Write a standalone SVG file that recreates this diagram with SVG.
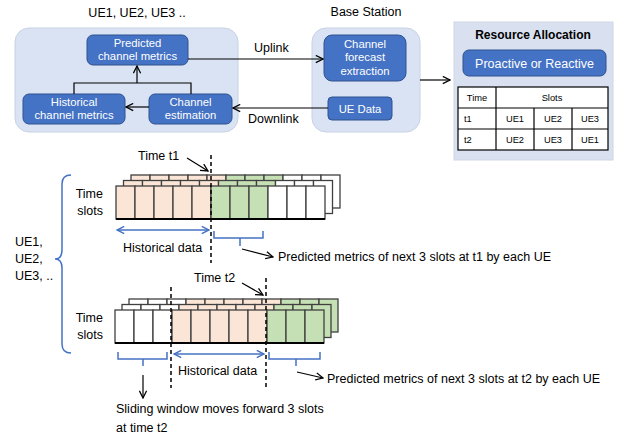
<svg xmlns="http://www.w3.org/2000/svg" xmlns:xlink="http://www.w3.org/1999/xlink" width="628" height="436" viewBox="0 0 628 436">
<style>
text{font-family:"Liberation Sans",Arial,sans-serif;fill:#000}
.t12{font-size:12.5px}
.w{fill:#fff;font-size:11.3px}
.c{text-anchor:middle}
.cont{fill:#dae3f3;stroke:#c8d2e2;stroke-width:1}
.box{fill:#4472c4;stroke:#2f528f;stroke-width:1}
.ln{fill:none;stroke:#000;stroke-width:1.2}
.blue{fill:none;stroke:#4472c4;stroke-width:1.5}
.dash{fill:none;stroke:#000;stroke-width:1.5;stroke-dasharray:4 3}
.tb{fill:#fff;stroke:#000;stroke-width:1.2}
.tt{font-size:9.3px}
.pk{fill:#fbe5d6;stroke:#404040;stroke-width:1.3}
.gr{fill:#c5e0b4;stroke:#404040;stroke-width:1.3}
.wh{fill:#fff;stroke:#404040;stroke-width:1.3}
</style>
<defs>
<marker id="ah" viewBox="0 0 10 10" refX="9" refY="5" markerWidth="9" markerHeight="9" markerUnits="userSpaceOnUse" orient="auto-start-reverse">
<path d="M1,1 L9,5 L1,9" fill="none" stroke="#000" stroke-width="1.4"/>
</marker>
<marker id="ahb" viewBox="0 0 10 10" refX="9" refY="5" markerWidth="9" markerHeight="9" markerUnits="userSpaceOnUse" orient="auto-start-reverse">
<path d="M1,1 L9,5 L1,9" fill="none" stroke="#4472c4" stroke-width="1.6"/>
</marker>
<g id="layerA">
<rect class="pk" x="0" y="0" width="19" height="33"/><rect class="pk" x="19" y="0" width="19" height="33"/><rect class="pk" x="38" y="0" width="19" height="33"/><rect class="pk" x="57" y="0" width="19" height="33"/><rect class="pk" x="76" y="0" width="19" height="33"/>
<rect class="gr" x="95" y="0" width="19" height="33"/><rect class="gr" x="114" y="0" width="19" height="33"/><rect class="gr" x="133" y="0" width="19" height="33"/>
<rect class="wh" x="152" y="0" width="19" height="33"/><rect class="wh" x="171" y="0" width="19" height="33"/><rect class="wh" x="190" y="0" width="19" height="33"/>
</g>
<g id="layerB">
<rect class="wh" x="0" y="0" width="19" height="33"/><rect class="wh" x="19" y="0" width="19" height="33"/><rect class="wh" x="38" y="0" width="19" height="33"/>
<rect class="pk" x="57" y="0" width="19" height="33"/><rect class="pk" x="76" y="0" width="19" height="33"/><rect class="pk" x="95" y="0" width="19" height="33"/><rect class="pk" x="114" y="0" width="19" height="33"/><rect class="pk" x="133" y="0" width="19" height="33"/>
<rect class="gr" x="152" y="0" width="19" height="33"/><rect class="gr" x="171" y="0" width="19" height="33"/><rect class="gr" x="190" y="0" width="19" height="33"/>
</g>
</defs>
<rect width="628" height="436" fill="#fff"/>

<g id="ue-container">
<rect class="cont" x="15" y="28" width="223" height="104" rx="14"/>
<text class="t12 c" x="137" y="17">UE1, UE2, UE3 ..</text>
</g>
<g id="bs-container">
<rect class="cont" x="312" y="28" width="108" height="104" rx="14"/>
<text class="t12 c" x="366" y="16">Base Station</text>
</g>

<g id="predicted">
<rect class="box" x="87" y="35" width="101" height="30" rx="6"/>
<text class="w c" x="137.5" y="47">Predicted</text>
<text class="w c" x="137.5" y="60">channel metrics</text>
</g>
<g id="historical">
<rect class="box" x="23" y="94" width="102" height="30" rx="6"/>
<text class="w c" x="74" y="106">Historical</text>
<text class="w c" x="74" y="119">channel metrics</text>
</g>
<g id="estimation">
<rect class="box" x="149" y="94" width="83" height="30" rx="6"/>
<text class="w c" x="190.5" y="106">Channel</text>
<text class="w c" x="190.5" y="119">estimation</text>
</g>
<g id="forecast">
<rect class="box" x="324" y="35" width="82" height="46" rx="8"/>
<text class="w c" x="365" y="48">Channel</text>
<text class="w c" x="365" y="61">forecast</text>
<text class="w c" x="365" y="75">extraction</text>
</g>
<g id="uedata">
<rect class="box" x="328" y="97" width="64" height="23" rx="4"/>
<text class="w c" x="360" y="113">UE Data</text>
</g>

<g id="resource">
<rect x="454" y="22" width="159" height="138" fill="#d9e1f0" stroke="#cfd6e2" stroke-width="1"/>
<text class="c" x="533" y="39" style="font-size:12px;font-weight:bold">Resource Allocation</text>
<rect class="box" x="463" y="50" width="143" height="26" rx="6"/>
<text class="c" x="534.5" y="68" style="fill:#fff;font-size:12.5px">Proactive or Reactive</text>
<rect class="tb" x="458" y="87" width="150" height="63"/>
<path class="ln" d="M458,108 H608 M458,129 H608 M496,87 V150 M534,108 V150 M572,108 V150"/>
<text class="tt c" x="477" y="101">Time</text>
<text class="tt c" x="552" y="101">Slots</text>
<text class="tt" x="464" y="122">t1</text>
<text class="tt c" x="515" y="122">UE1</text>
<text class="tt c" x="553" y="122">UE2</text>
<text class="tt c" x="590" y="122">UE3</text>
<text class="tt" x="464" y="143">t2</text>
<text class="tt c" x="515" y="143">UE2</text>
<text class="tt c" x="553" y="143">UE3</text>
<text class="tt c" x="590" y="143">UE1</text>
</g>

<g id="connectors">
<path class="ln" d="M74,94 V83 H191 V94"/>
<path class="ln" d="M137,83 V66" marker-end="url(#ah)"/>
<path class="ln" d="M149,107 H126" marker-end="url(#ah)"/>
<path class="ln" d="M188,59 H323" marker-end="url(#ah)"/>
<path class="ln" d="M328,108 H233" marker-end="url(#ah)"/>
<path class="ln" d="M420,80 H450" marker-end="url(#ah)"/>
<text class="t12" x="254" y="52">Uplink</text>
<text class="t12" x="248" y="123">Downlink</text>
</g>

<g id="ue-brace">
<path class="blue" d="M71,175 Q62,175 62,184 V250 Q62,259 55,259 Q62,259 62,268 V344 Q62,353 71,353"/>
<text class="t12" x="15" y="246">UE1,</text>
<text class="t12" x="15" y="263">UE2,</text>
<text class="t12" x="15" y="280">UE3, ..</text>
</g>

<g id="slots-t1">
<text class="t12" x="103" y="198" text-anchor="end">Time</text>
<text class="t12" x="103" y="215" text-anchor="end">slots</text>
<use xlink:href="#layerA" x="131" y="175"/>
<use xlink:href="#layerA" x="123.5" y="180.5"/>
<use xlink:href="#layerA" x="116" y="186"/>
<path d="M116,219 H325" stroke="#000" stroke-width="2.2"/>
<path class="dash" d="M211,155 V263"/>
<text class="t12" x="138" y="160">Time t1</text>
<path class="ln" d="M187,158 L208,171" marker-end="url(#ah)"/>
<path class="blue" d="M117,230 H209" marker-start="url(#ahb)" marker-end="url(#ahb)"/>
<text class="t12" x="123" y="252">Historical data</text>
<path class="blue" d="M214,231 V238 H263 V231 M240,238 V246"/>
<path class="ln" d="M242,249 L273,257" marker-end="url(#ah)"/>
<text class="t12" x="278" y="261">Predicted metrics of next 3 slots at t1 by each UE</text>
</g>

<g id="slots-t2">
<text class="t12" x="103" y="322" text-anchor="end">Time</text>
<text class="t12" x="103" y="339" text-anchor="end">slots</text>
<use xlink:href="#layerB" x="129" y="299"/>
<use xlink:href="#layerB" x="122" y="304.5"/>
<use xlink:href="#layerB" x="115" y="310"/>
<path d="M115,343 H324" stroke="#000" stroke-width="2.2"/>
<path class="dash" d="M171,287 V388"/>
<path class="dash" d="M266,278 V388"/>
<text class="t12" x="194" y="282">Time t2</text>
<path class="ln" d="M242,283 L263,295" marker-end="url(#ah)"/>
<path class="blue" d="M174,354 H264" marker-start="url(#ahb)" marker-end="url(#ahb)"/>
<text class="t12" x="178" y="375">Historical data</text>
<path class="blue" d="M118,352 V359 H167 V352 M143,359 V366"/>
<path class="blue" d="M269,352 V359 H320 V352 M296,359 V366"/>
<path class="ln" d="M143,375 V398" marker-end="url(#ah)"/>
<path class="ln" d="M297,372 L323,378" marker-end="url(#ah)"/>
<text class="t12" x="327" y="383">Predicted metrics of next 3 slots at t2 by each UE</text>
<text class="t12" x="116" y="413">Sliding window moves forward 3 slots</text>
<text class="t12" x="116" y="432">at time t2</text>
</g>
</svg>
